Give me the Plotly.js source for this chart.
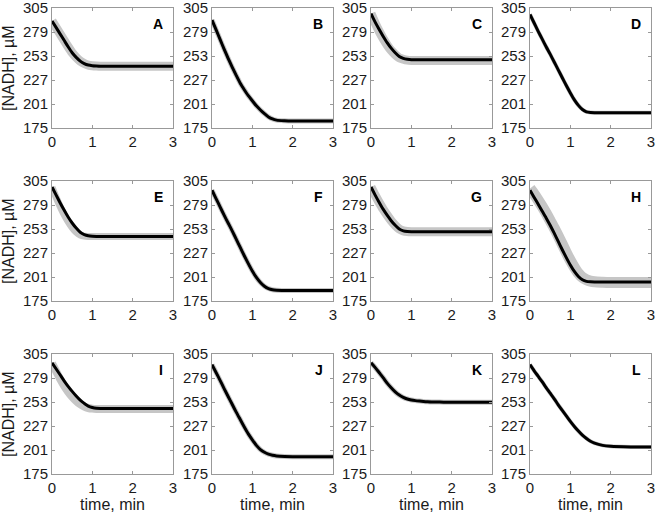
<!DOCTYPE html>
<html>
<head>
<meta charset="utf-8">
<script src="https://cdn.plot.ly/plotly-3.0.1.min.js"></script>
<style>
  html, body { margin: 0; padding: 0; background: #fff; }
  #plot { width: 656px; height: 516px; }
</style>
</head>
<body>
<div id="plot"></div>
<script>
// time grid (min) shared by all panels
const time = [0, 0.1, 0.2, 0.3, 0.4, 0.5, 0.6, 0.7, 0.8, 0.9, 1.0, 1.1, 1.2, 1.3, 1.4, 1.5, 1.6, 1.8, 2.0, 2.5, 3.0];

const panels = ['A', 'B', 'C', 'D', 'E', 'F', 'G', 'H', 'I', 'J', 'K', 'L'];

// fitted curves (black), NADH in uM
const fitA = [291, 284, 277, 270, 263, 256.5, 251.5, 247.5, 244.8, 243.2, 242.5, 242.2, 242, 242, 242, 242, 242, 242, 242, 242, 242];
const fitB = [292, 281.5, 271, 260.5, 250.5, 241, 232, 223.5, 216.5, 210, 204.5, 199, 194.5, 190.5, 187, 184.8, 183.5, 182.8, 182.5, 182.5, 182.5];
const fitC = [299, 290, 282, 274.5, 267.5, 261.5, 256.5, 252.5, 250.5, 249.5, 249, 249, 249, 249, 249, 249, 249, 249, 249, 249, 249];
const fitD = [298, 289, 280, 271.5, 263, 255, 246.5, 238, 229.5, 221, 213, 205.5, 199.5, 195, 192.5, 191.8, 191.6, 191.5, 191.5, 191.5, 191.5];
const fitE = [298.5, 290, 281.5, 273.5, 266, 259.5, 254, 249.5, 247, 245.7, 245.2, 245, 245, 245, 245, 245, 245, 245, 245, 245, 245];
const fitF = [295, 286, 277, 268, 259.5, 251, 242, 233, 224, 215.5, 207.5, 200.5, 195, 191, 188.5, 187.2, 186.7, 186.5, 186.5, 186.5, 186.5];
const fitG = [298.5, 290, 282, 274.5, 268, 262, 257, 253, 251, 250.2, 250, 250, 250, 250, 250, 250, 250, 250, 250, 250, 250];
const fitH = [295, 287.5, 280, 272.5, 265, 257, 248.5, 239.5, 230.5, 222, 214, 207, 201.5, 198, 196.3, 195.8, 195.6, 195.5, 195.5, 195.5, 195.5];
const fitI = [295.5, 289, 282.5, 276, 270, 264.5, 259.5, 255, 251.5, 248.5, 247, 246.2, 246, 246, 246, 246, 246, 246, 246, 246, 246];
const fitJ = [293.5, 285, 276.5, 267.5, 259, 250.5, 242, 234, 226, 218.5, 212, 206, 201.5, 198.5, 196.5, 195.3, 194.6, 194, 193.8, 193.8, 193.8];
const fitK = [295.5, 290.5, 285, 279.5, 273.5, 268.5, 264, 260.5, 258, 256.3, 255.2, 254.5, 254, 253.6, 253.3, 253.1, 253, 252.8, 252.7, 252.6, 252.6];
const fitL = [293.5, 287, 281, 275, 268.5, 262.5, 256.5, 250, 244, 238, 232, 226.5, 221.5, 217, 213.5, 210.5, 208.5, 206, 205, 204.3, 204.2];

// measured data (grey band centre), where it departs from the fit
const obsC = [299, 289, 280, 272, 265, 259, 254.5, 251, 249.5, 248.5, 248.2, 248.2, 248.2, 248.2, 248.2, 248.2, 248.2, 248.2, 248.2, 248.2, 248.2];
const obsE = [298, 287.5, 277.5, 268.5, 261, 254.5, 249.5, 246.5, 245.3, 245, 245, 245, 245, 245, 245, 245, 245, 245, 245, 245, 245];
const obsH = [297, 291, 284.5, 277.5, 270, 262, 254, 245.5, 236.5, 227.5, 219, 211.5, 205, 200.5, 198, 196.5, 195.8, 195.3, 195, 195, 195];
const obsI = [295, 286.5, 278, 270.5, 264, 258.5, 254, 250.5, 248, 246.5, 245.8, 245.5, 245.5, 245.5, 245.5, 245.5, 245.5, 245.5, 245.5, 245.5, 245.5];

const fits = [fitA, fitB, fitC, fitD, fitE, fitF, fitG, fitH, fitI, fitJ, fitK, fitL];
const obs = [fitA, fitB, obsC, fitD, obsE, fitF, fitG, obsH, obsI, fitJ, fitK, fitL];
// scatter of the measurements, as band thickness in px
const noiseWidth = [9, 5, 9, 4, 7, 5, 9, 11, 8, 5, 5, 4];

const yTicks = [175, 201, 227, 253, 279, 305];

// panel geometry in px
const W = 656, H = 516;
const colLeft = [52, 212, 371, 530];
const rowTop = [8, 181, 354];
const pw = 121, ph = 120;

var data = [];
var layout = {
    width: W,
    height: H,
    margin: {l: 0, r: 0, t: 0, b: 0},
    paper_bgcolor: 'white',
    plot_bgcolor: 'white',
    showlegend: false,
    font: {family: 'Liberation Sans, Arial, sans-serif', size: 15, color: '#1a1a1a'},
    annotations: []
};

panels.forEach((p, i) => {
    const n = i + 1;
    const xa = n === 1 ? 'x' : 'x' + n;
    const ya = n === 1 ? 'y' : 'y' + n;
    const r = Math.floor(i / 4), c = i % 4;

    data.push({
        type: 'scatter', mode: 'lines', x: time, y: obs[i],
        xaxis: xa, yaxis: ya, line: {color: '#c6c6c6', width: noiseWidth[i], shape: 'spline', smoothing: 0.7},
        hoverinfo: 'skip'
    });
    data.push({
        type: 'scatter', mode: 'lines', x: time, y: fits[i],
        xaxis: xa, yaxis: ya, line: {color: '#000', width: 3, shape: 'spline', smoothing: 0.7}
    });

    const axBase = {
        showgrid: false, zeroline: false, showline: true, linecolor: '#999', linewidth: 1,
        mirror: 'allticks', ticks: 'inside', ticklen: 3, tickcolor: '#999',
        tickfont: {size: 15}, ticklabeloverflow: 'allow'
    };
    layout['xaxis' + (n === 1 ? '' : n)] = Object.assign({}, axBase, {
        domain: [colLeft[c] / W, (colLeft[c] + pw) / W],
        range: [0, 3], tickvals: [0, 1, 2, 3], anchor: ya,
        title: r === 2 ? {text: 'time, min', font: {size: 16}, standoff: 3} : undefined
    });
    layout['yaxis' + (n === 1 ? '' : n)] = Object.assign({}, axBase, {
        domain: [1 - (rowTop[r] + ph) / H, 1 - rowTop[r] / H],
        range: [175, 305], tickvals: yTicks, anchor: xa
    });

    // y title on the left column only
    if (c === 0) {
        layout.annotations.push({
            text: '[NADH], \u00b5M', xref: 'paper', yref: ya + ' domain',
            x: 8 / W, y: 0.5, xanchor: 'center', yanchor: 'middle', textangle: -90,
            showarrow: false, font: {size: 16}
        });
    }

    layout.annotations.push({
        text: '<b>' + p + '</b>', xref: xa + ' domain', yref: ya + ' domain',
        x: 0.935, y: 0.95, xanchor: 'right', yanchor: 'top', showarrow: false,
        font: {size: 14, color: '#000'}
    });
});

Plotly.newPlot('plot', data, layout, {displayModeBar: false, staticPlot: true});
</script>
</body>
</html>
